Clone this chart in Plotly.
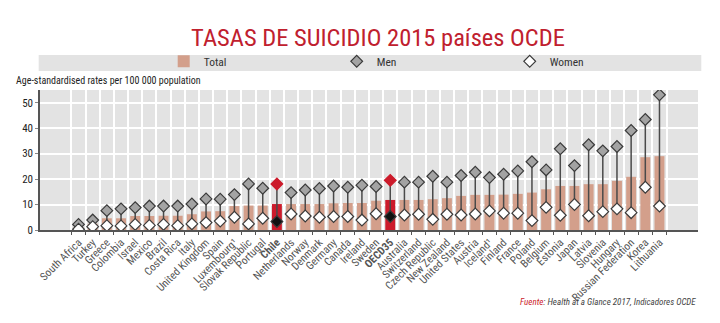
import plotly.graph_objects as go

categories = ["South Africa", "Turkey", "Greece", "Colombia", "Israel", "Mexico", "Brazil",
              "Costa Rica", "Italy", "United Kingdom", "Spain", "Luxembourg¹", "Slovak Republic",
              "Portugal", "Chile", "Netherlands", "Norway", "Denmark", "Germany", "Canada",
              "Ireland", "Sweden", "OECD35", "Australia", "Switzerland", "Czech Republic",
              "New Zealand", "United States", "Austria", "Iceland¹", "Finland", "France",
              "Poland", "Belgium", "Estonia", "Japan", "Latvia", "Slovenia", "Hungary",
              "Russian Federation", "Korea", "Lithuania"]
total = [1.1, 2.5, 4.6, 4.6, 5.5, 5.5, 5.6, 5.6, 6.2, 7.3, 7.4, 9.4, 9.6, 9.6, 10.2, 10.2,
         10.2, 10.2, 10.5, 10.6, 10.6, 11.5, 11.8, 11.8, 11.8, 12.1, 12.5, 13.4, 13.8, 13.8,
         13.9, 14.2, 14.7, 16.0, 17.3, 17.3, 18.0, 18.0, 19.3, 20.9, 28.6, 29.0]
men = [2.2, 3.9, 7.6, 8.3, 8.8, 9.4, 9.4, 9.4, 10.2, 12.2, 12.1, 13.9, 18.1, 16.4, 18.1, 14.7,
       15.7, 16.3, 17.3, 16.8, 17.6, 17.1, 19.5, 18.8, 18.8, 21.1, 18.8, 21.4, 22.7, 20.6,
       21.9, 23.2, 26.8, 23.6, 31.9, 25.3, 33.5, 31.1, 32.8, 39.1, 43.4, 53.1]
women = [0.3, 1.3, 1.7, 1.6, 2.2, 1.8, 2.2, 1.7, 2.4, 2.9, 3.5, 5.0, 2.4, 4.6, 3.3, 6.3,
         5.5, 5.0, 5.3, 5.3, 3.9, 6.4, 5.3, 5.9, 6.2, 4.2, 6.2, 5.9, 6.3, 7.5,
         6.6, 6.6, 3.7, 8.9, 5.8, 10.0, 5.6, 7.2, 8.3, 6.8, 16.8, 9.4]
highlight = ["Chile", "OECD35"]
y_ticks = [0, 10, 20, 30, 40, 50]

FONT = "Liberation Sans Narrow, Roboto Condensed, Arial Narrow, Liberation Sans, sans-serif"
BAR = "#d39f8b"
RED = "#cc1b2b"

bar_colors = [RED if c in highlight else BAR for c in categories]
men_fill = [RED if c in highlight else "#a3a3a3" for c in categories]
men_line = [RED if c in highlight else "#3a3a3a" for c in categories]
women_fill = ["#111111" if c in highlight else "white" for c in categories]
labels = [f"<b>{c}</b>" if c in highlight else c for c in categories]

lx, ly = [], []
for c, m, w in zip(categories, men, women):
    lx += [c, c, None]
    ly += [m, w, None]

fig = go.Figure()
fig.add_trace(go.Bar(x=categories, y=total, name="Total", marker=dict(color=bar_colors, line_width=0),
                     hoverinfo="x+y"))
fig.add_trace(go.Scatter(x=lx, y=ly, mode="lines", line=dict(color="#4a4a4a", width=1.5),
                         showlegend=False, hoverinfo="skip"))
fig.add_trace(go.Scatter(x=categories, y=men, mode="markers", name="Men",
                         marker=dict(symbol="diamond", size=9, color=men_fill,
                                     line=dict(color=men_line, width=1.2))))
fig.add_trace(go.Scatter(x=categories, y=women, mode="markers", name="Women",
                         marker=dict(symbol="diamond", size=9, color=women_fill,
                                     line=dict(color="#3a3a3a", width=1.2))))

fig.update_layout(
    width=720, height=323,
    margin=dict(l=40, r=22, t=90, b=93),
    paper_bgcolor="white", plot_bgcolor="#e3e3e3",
    font=dict(family=FONT, size=11, color="#222"),
    bargap=0.3,
    showlegend=True,
    legend=dict(orientation="h", x=0.188, xanchor="left", y=1.205, yanchor="middle",
                entrywidth=128, entrywidthmode="pixels", bgcolor="rgba(0,0,0,0)",
                font=dict(size=11.5, color="#333"), itemclick=False, itemdoubleclick=False,
                tracegroupgap=0),
    title=dict(text="TASAS DE SUICIDIO 2015 países OCDE", x=0.525, xanchor="center",
               y=0.885, yanchor="middle", font=dict(family=FONT, size=24.5, color="#c0202e")),
    shapes=[dict(type="rect", xref="paper", yref="paper", x0=-0.002, x1=1.005,
                 y0=(230 - 71) / 140, y1=(230 - 55) / 140, fillcolor="#e3e3e3",
                 line_width=0, layer="below")],
    annotations=[
        dict(text="Age-standardised rates per 100 000 population", xref="paper", yref="paper",
             x=-0.04, y=(230 - 80) / 140, xanchor="left", yanchor="middle", showarrow=False,
             font=dict(size=10, color="#222")),
        dict(text="<i><span style='color:#cc1b2b'>Fuente</span>: Health at a Glance 2017, Indicadores OCDE</i>",
             xref="paper", yref="paper", x=1.0, y=(230 - 302) / 140, xanchor="right",
             yanchor="middle", showarrow=False, font=dict(size=9, color="#444")),
    ],
)
fig.update_xaxes(type="category", tickson="boundaries", tickmode="array",
                 tickvals=categories, ticktext=labels, tickangle=-45,
                 showgrid=True, gridcolor="white", gridwidth=2,
                 ticks="outside", ticklen=3, tickcolor="#555",
                 showline=True, linecolor="#555", linewidth=1.5,
                 tickfont=dict(size=11, color="#555"))
fig.update_yaxes(range=[0, 55], tickvals=y_ticks, showgrid=True, gridcolor="white", gridwidth=2,
                 zeroline=False, showline=True, linecolor="#555", linewidth=1.5,
                 ticks="outside", ticklen=3, tickcolor="#888",
                 tickfont=dict(size=11, color="#222"))

fig.write_html("out.html")
